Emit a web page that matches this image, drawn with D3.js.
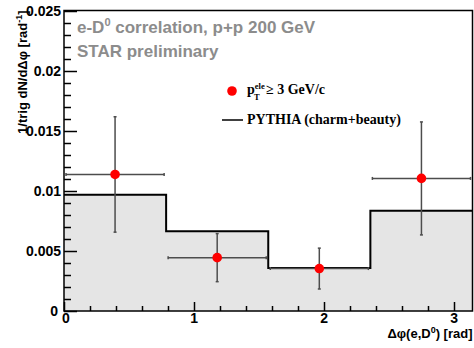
<!DOCTYPE html>
<meta charset="utf-8">
<style>
body { margin: 0; background: #fff; }
svg text { font-family: "Liberation Sans", Arial, sans-serif; font-weight: bold; }
.leg text { font-family: "Liberation Serif", "Times New Roman", serif; }
</style>
<body>
<svg id="chart" width="474" height="348"></svg>
<script src="https://cdn.jsdelivr.net/npm/d3@7"></script>
<script>

// histogram (PYTHIA) bin edges and contents
var binEdges = [0, Math.PI / 4, Math.PI / 2, 3 * Math.PI / 4, Math.PI];
var pythia = [0.00967, 0.00664, 0.00358, 0.00833];

// data points
var dataX = [Math.PI / 8, 3 * Math.PI / 8, 5 * Math.PI / 8, 7 * Math.PI / 8];
var dataY = [0.01136, 0.00444, 0.00353, 0.01103];
var dataErr = [0.0048, 0.0020, 0.0017, 0.0047];
var dataXErr = [Math.PI / 8, Math.PI / 8, Math.PI / 8, Math.PI / 8];

var xMajor = [0, 1, 2, 3];
var yMajor = [0, 0.005, 0.01, 0.015, 0.02, 0.025];

var svg = d3.select("#chart");
var pLeft = 64, pRight = 472.5, pTop = 10.5, pBottom = 311;

var x = d3.scaleLinear().domain([0, Math.PI]).range([pLeft, pRight]);
var y = d3.scaleLinear().domain([0, 0.025]).range([pBottom, pTop]);

// filled histogram
var histPts = [];
pythia.forEach(function(v, i) {
  histPts.push([binEdges[i], v]);
  histPts.push([binEdges[i + 1], v]);
});
var area = d3.area()
  .x(function(d) { return x(d[0]); })
  .y0(y(0))
  .y1(function(d) { return y(d[1]); });
svg.append("path")
  .attr("d", area(histPts))
  .attr("fill", "#e5e5e5");

var line = d3.line()
  .x(function(d) { return x(d[0]); })
  .y(function(d) { return y(d[1]); });
svg.append("path")
  .attr("d", line(histPts))
  .attr("fill", "none")
  .attr("stroke", "#000")
  .attr("stroke-width", 2);

// frame
svg.append("rect")
  .attr("x", pLeft).attr("y", pTop)
  .attr("width", pRight - pLeft).attr("height", pBottom - pTop)
  .attr("fill", "none").attr("stroke", "#000").attr("stroke-width", 1.5);

// y axis ticks
var yMinor = d3.range(0, 0.02501, 0.001);
svg.append("g").selectAll("line").data(yMinor).enter().append("line")
  .attr("x1", pLeft).attr("x2", function(d, i) { return pLeft + (i % 5 == 0 ? 13 : 7); })
  .attr("y1", function(d) { return Math.round(y(d)) + 0.5; })
  .attr("y2", function(d) { return Math.round(y(d)) + 0.5; })
  .attr("stroke", "#000").attr("stroke-width", 1.5);

svg.append("g").selectAll("text").data(yMajor).enter().append("text")
  .attr("x", function(d) { return d == 0 ? 58 : 61; })
  .attr("y", function(d) { return y(d) + 5; })
  .attr("text-anchor", "end")
  .attr("font-size", 14)
  .text(function(d) { return d == 0 ? "0" : String(+d.toFixed(3)); });

// x axis ticks
var xMinor = d3.range(0, Math.PI, 0.2);
svg.append("g").selectAll("line").data(xMinor).enter().append("line")
  .attr("x1", function(d) { return Math.round(x(d)) + 0.5; })
  .attr("x2", function(d) { return Math.round(x(d)) + 0.5; })
  .attr("y1", pBottom)
  .attr("y2", function(d, i) { return pBottom - (i % 5 == 0 ? 9 : 5); })
  .attr("stroke", "#000").attr("stroke-width", 1.5);

svg.append("g").selectAll("text").data(xMajor).enter().append("text")
  .attr("x", function(d) { return x(d) + (d == 0 ? 2 : 0); })
  .attr("y", 323)
  .attr("text-anchor", "middle")
  .attr("font-size", 14)
  .text(function(d) { return d; });

// axis titles
var xt = svg.append("text")
  .attr("x", pRight).attr("y", 338)
  .attr("text-anchor", "end")
  .attr("font-size", 13);
xt.append("tspan").text("\u0394\u03c6(e,D");
xt.append("tspan").attr("dy", -5).attr("font-size", 9).text("0");
xt.append("tspan").attr("dy", 5).text(") [rad]");

var yt = svg.append("text")
  .attr("transform", "translate(27," + pTop + ") rotate(-90)")
  .attr("text-anchor", "end")
  .attr("font-size", 13);
yt.append("tspan").text("1/trig dN/d\u0394\u03c6 [rad");
yt.append("tspan").attr("dy", -5).attr("font-size", 9).text("-1");
yt.append("tspan").attr("dy", 5).text("]");

// labels inside the plot
var t1 = svg.append("text").attr("x", 77).attr("y", 33)
  .attr("font-size", 17).attr("fill", "#8c8c8c");
t1.append("tspan").text("e-D");
t1.append("tspan").attr("dy", -7).attr("font-size", 11).text("0");
t1.append("tspan").attr("dy", 7).text(" correlation, p+p 200 GeV");
svg.append("text").attr("x", 77).attr("y", 57)
  .attr("font-size", 17).attr("fill", "#8c8c8c")
  .text("STAR preliminary");

// error bars
var eb = svg.append("g").attr("stroke", "#4d4d4d").attr("stroke-width", 1.5);
dataX.forEach(function(xv, i) {
  var cx = x(xv), cy = y(dataY[i]);
  var y1 = y(dataY[i] + dataErr[i]), y2 = y(dataY[i] - dataErr[i]);
  var x1 = x(xv - dataXErr[i]), x2 = x(xv + dataXErr[i]);
  eb.append("line").attr("x1", cx).attr("x2", cx).attr("y1", y1).attr("y2", y2);
  eb.append("line").attr("x1", x1 + 2).attr("x2", x2 - 2).attr("y1", cy).attr("y2", cy);
  [y1, y2].forEach(function(yy) {
    eb.append("line").attr("x1", cx - 1.5).attr("x2", cx + 1.5).attr("y1", yy).attr("y2", yy);
  });
  [x1 + 2, x2 - 2].forEach(function(xx) {
    eb.append("line").attr("x1", xx).attr("x2", xx).attr("y1", cy - 1.5).attr("y2", cy + 1.5);
  });
});

svg.append("g").selectAll("circle").data(dataX).enter().append("circle")
  .attr("cx", function(d) { return x(d); })
  .attr("cy", function(d, i) { return y(dataY[i]); })
  .attr("r", 4.8)
  .attr("fill", "#ff0000");

// legend
var leg = svg.append("g").attr("class", "leg");
leg.append("circle").attr("cx", 232).attr("cy", 91).attr("r", 4.8).attr("fill", "#ff0000");
var l1 = leg.append("text").attr("x", 247).attr("y", 94).attr("font-size", 14);
l1.append("tspan").text("p");
l1.append("tspan").attr("dy", -5).attr("font-size", 8.5).text("ele");
l1.append("tspan").attr("x", 254).attr("dy", 11).attr("font-size", 8.5).text("T");
l1.append("tspan").attr("x", 266).attr("dy", -6).text("\u2265 3 GeV/c");
leg.append("line").attr("x1", 222).attr("x2", 243).attr("y1", 120).attr("y2", 120)
  .attr("stroke", "#000").attr("stroke-width", 1.5);
leg.append("text").attr("x", 247).attr("y", 124).attr("font-size", 14)
  .text("PYTHIA (charm+beauty)");

</script>
</body>
